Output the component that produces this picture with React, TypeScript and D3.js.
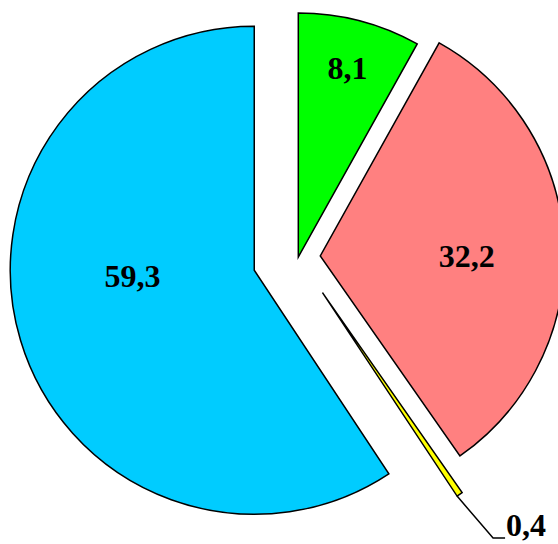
import React from 'react'
import * as d3 from 'd3'

// slice values, clockwise from 12 o'clock
const categories = ['A', 'B', 'C', 'D']
const values = [8.1, 32.2, 0.4, 59.3]
const labels = ['8,1', '32,2', '0,4', '59,3']

const colors = ['#00FF00', '#FF8080', '#FFFF00', '#00CCFF']
// how far each slice is pulled out from the centre (px)
const explode = [0, 22, 43, 46]
// label radius as a share of the pie radius, and an angle shift (deg)
const labelRadius = [0.8, 0.6, 0, 0.5]
const labelShift = [0, 3, 0, 14]

const width = 558
const height = 544
const cx = 298.3
const cy = 257
const radius = 244
const font = "'Liberation Serif', 'Times New Roman', serif"

const App: React.FC = () => {
  const pie = d3.pie<number>().sort(null).value(d => d)
  const slices = pie(values)
  const arc = d3.arc<d3.PieArcDatum<number>>().innerRadius(0).outerRadius(radius)

  return (
    <svg width={width} height={height} style={{ position: 'absolute', left: 0, top: 0, background: '#fff' }}>
      {slices.map((s, i) => {
        const mid = (s.startAngle + s.endAngle) / 2
        const ox = cx + Math.sin(mid) * explode[i]
        const oy = cy - Math.cos(mid) * explode[i]
        let label: React.ReactNode = null
        if (i === 2) {
          // small slice: leader line to the outside label
          const sx = ox + Math.sin(s.endAngle) * radius
          const sy = oy - Math.cos(s.endAngle) * radius
          const ex = sx + 36
          const ey = sy + 42
          label = (
            <g>
              <polyline points={`${sx},${sy} ${ex},${ey} ${ex + 12},${ey}`} fill="none" stroke="#000" strokeWidth={1.5} />
              <text x={ex + 13} y={ey - 2} fontFamily={font} fontWeight="bold" fontSize={32}>{labels[i]}</text>
            </g>
          )
        } else {
          const a = mid + (labelShift[i] * Math.PI) / 180
          const r = labelRadius[i] * radius
          label = (
            <text
              x={ox + Math.sin(a) * r}
              y={oy - Math.cos(a) * r}
              dy="0.35em"
              textAnchor="middle"
              fontFamily={font}
              fontWeight="bold"
              fontSize={32}
            >{labels[i]}</text>
          )
        }
        return (
          <g key={categories[i]}>
            <path
              d={arc(s) || ''}
              transform={`translate(${ox},${oy})`}
              fill={colors[i]}
              stroke="#000"
              strokeWidth={1.5}
              strokeLinejoin="miter"
            />
            {label}
          </g>
        )
      })}
    </svg>
  )
}

export default App
